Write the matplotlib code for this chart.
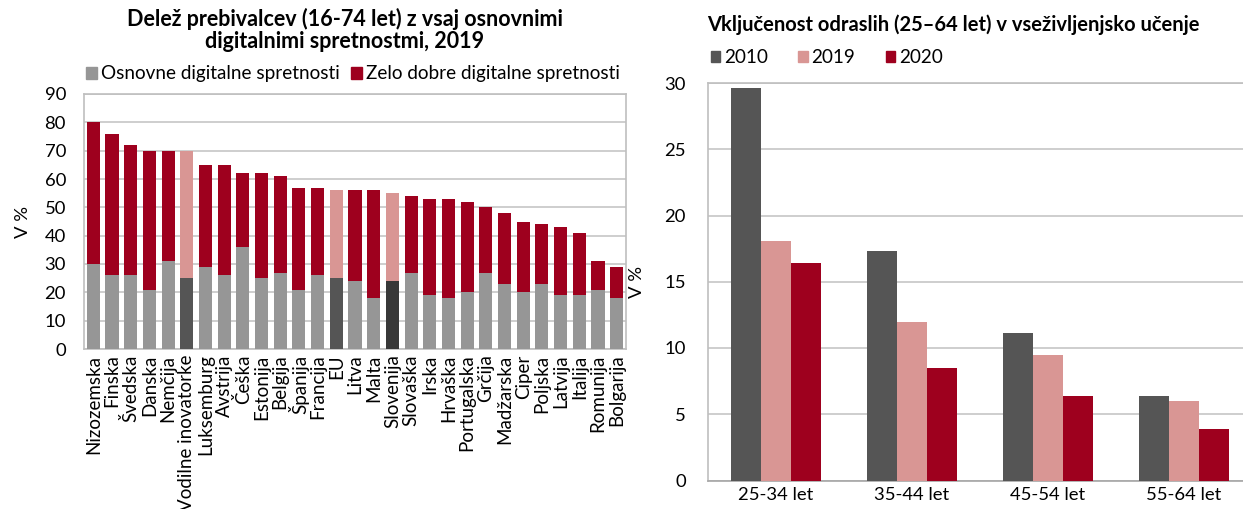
import matplotlib
matplotlib.use("Agg")
import matplotlib.pyplot as plt
from matplotlib.patches import Patch
import numpy as np

plt.rcParams['font.family'] = ['Lato', 'DejaVu Sans']

# ---------------- data: left chart ----------------
countries = ["Nizozemska", "Finska", "Švedska", "Danska", "Nemčija", "Vodilne inovatorke",
             "Luksemburg", "Avstrija", "Češka", "Estonija", "Belgija", "Španija", "Francija",
             "EU", "Litva", "Malta", "Slovenija", "Slovaška", "Irska", "Hrvaška", "Portugalska",
             "Grčija", "Madžarska", "Ciper", "Poljska", "Latvija", "Italija", "Romunija", "Bolgarija"]
total_skills = [80, 76, 72, 70, 70, 70, 65, 65, 62, 62, 61, 57, 57,
                56, 56, 56, 55, 54, 53, 53, 52, 50, 48, 45, 44, 43, 41, 31, 29]
basic_skills = [30, 26, 26, 21, 31, 25, 29, 26, 36, 25, 27, 21, 26,
                25, 24, 18, 24, 27, 19, 18, 20, 27, 23, 20, 23, 19, 19, 21, 18]
left_yticks = [0, 10, 20, 30, 40, 50, 60, 70, 80, 90]

# ---------------- data: right chart ----------------
age_groups = ["25-34 let", "35-44 let", "45-54 let", "55-64 let"]
years = ["2010", "2019", "2020"]
v2010 = [29.6, 17.3, 11.1, 6.4]
v2019 = [18.1, 12.0, 9.5, 6.0]
v2020 = [16.4, 8.5, 6.4, 3.9]
right_yticks = [0, 5, 10, 15, 20, 25, 30]

# ---------------- styles ----------------
GRAY = "#969696"
RED = "#9E001E"
PINK = "#D99694"
DARK = "#555555"
DARKER = "#383838"
GRID = "#C6C6C6"
FRAME = "#BFBFBF"
highlight_lower = {"Vodilne inovatorke": DARK, "EU": DARK, "Slovenija": DARKER}
highlight_upper = {"Vodilne inovatorke": PINK, "EU": PINK, "Slovenija": PINK}

FS = 13.3

W, H = 1243, 509
fig = plt.figure(figsize=(W / 100, H / 100), dpi=100)

# ---------------- left chart ----------------
axL = fig.add_axes([84 / W, 1 - 349 / H, (626 - 84) / W, (349 - 94) / H])
x = np.arange(len(countries))
basic = np.array(basic_skills)
upper = np.array(total_skills) - basic
low_cols = [highlight_lower.get(c, GRAY) for c in countries]
up_cols = [highlight_upper.get(c, RED) for c in countries]
axL.bar(x, basic, width=0.70, color=low_cols, zorder=3)
axL.bar(x, upper, bottom=basic, width=0.70, color=up_cols, zorder=3)
axL.set_xlim(-0.5, len(countries) - 0.5)
axL.set_ylim(0, 90)
axL.set_yticks(left_yticks)
axL.set_xticks(x)
axL.set_xticklabels(countries, rotation=90, fontsize=13.5, va='top', ha='center')
axL.tick_params(axis='y', length=0, labelsize=FS, colors='black', pad=13)
axL.tick_params(axis='x', length=0, colors='black', pad=4)
axL.grid(axis='y', color=GRID, linewidth=1.2, zorder=0)
for s in axL.spines.values():
    s.set_color(FRAME)
    s.set_linewidth(1.2)
axL.set_ylabel("V %", fontsize=FS, labelpad=10)
fig.text(345 / W, 1 - 30 / H, "Delež prebivalcev (16-74 let) z vsaj osnovnimi\ndigitalnimi spretnostmi, 2019",
         ha='center', va='center', fontsize=15.5, fontweight='bold', linespacing=1.1)
handlesL = [Patch(color=GRAY), Patch(color=RED)]
axL.legend(handlesL, ["Osnovne digitalne spretnosti", "Zelo dobre digitalne spretnosti"],
           loc='center', bbox_to_anchor=(353 / W, 1 - 74 / H), bbox_transform=fig.transFigure,
           ncol=2, frameon=False, fontsize=13.6, handlelength=0.6, handleheight=0.6,
           handletextpad=0.2, columnspacing=0.6, borderpad=0, borderaxespad=0)

# ---------------- right chart ----------------
axR = fig.add_axes([708 / W, 1 - 480.5 / H, 544 / W, (480.5 - 83) / H])
xr = np.arange(len(age_groups))
bw = 0.22
axR.bar(xr - bw, v2010, width=bw, color=DARK, zorder=3)
axR.bar(xr, v2019, width=bw, color=PINK, zorder=3)
axR.bar(xr + bw, v2020, width=bw, color=RED, zorder=3)
axR.set_xlim(-0.5, len(age_groups) - 0.5)
axR.set_ylim(0, 30)
axR.set_yticks(right_yticks)
axR.set_xticks(xr)
axR.set_xticklabels(age_groups)
axR.tick_params(axis='both', length=0, labelsize=FS, colors='black')
axR.tick_params(axis='y', pad=16)
axR.tick_params(axis='x', pad=5)
axR.grid(axis='y', color=GRID, linewidth=1.2, zorder=0)
for name, s in axR.spines.items():
    s.set_color(FRAME)
    s.set_linewidth(1.2)
axR.spines['bottom'].set_color("#A6A6A6")
axR.set_ylabel("V %", fontsize=FS, labelpad=14)
fig.text(707 / W, 1 - 25 / H, "Vključenost odraslih (25–64 let) v vseživljenjsko učenje",
         ha='left', va='center', fontsize=14.5, fontweight='bold')
handlesR = [Patch(color=DARK), Patch(color=PINK), Patch(color=RED)]
axR.legend(handlesR, years, loc='center left', bbox_to_anchor=(711 / W, 1 - 58 / H),
           bbox_transform=fig.transFigure, ncol=3, frameon=False, fontsize=13.6,
           handlelength=0.5, handleheight=0.5, handletextpad=0.2, columnspacing=1.6,
           borderpad=0, borderaxespad=0)

fig.savefig("out.png", dpi=100)
